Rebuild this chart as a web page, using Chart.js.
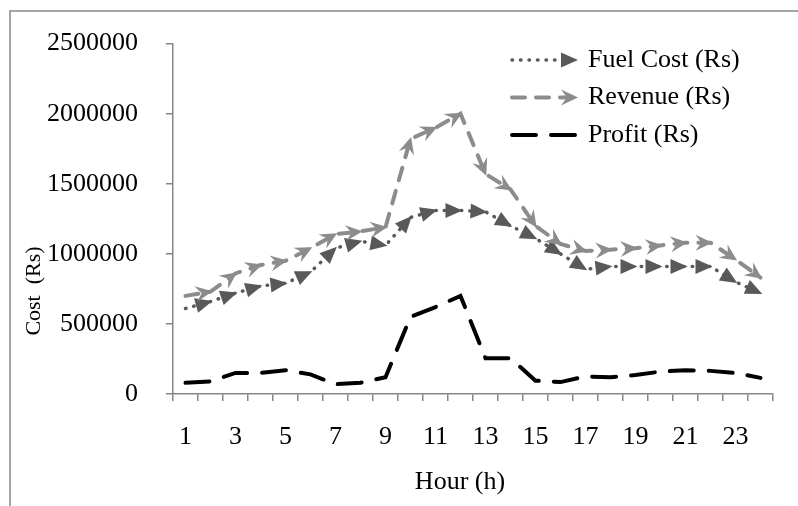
<!DOCTYPE html>
<html lang="en">
<head>
<meta charset="UTF-8">
<title>Hourly Cost Chart</title>
<script src="https://cdn.jsdelivr.net/npm/chart.js"></script>
<style>
  body { margin: 0; background: #fff; }
  canvas { display: block; }
</style>
</head>
<body>
<canvas id="costChart" width="798" height="506"></canvas>
<script>
const hours = ['1','2','3','4','5','6','7','8','9','10','11','12','13','14','15','16','17','18','19','20','21','22','23','24'];
const fuelCost = [610000, 660000, 720000, 770000, 790000, 870000, 1040000, 1090000, 1060000, 1260000, 1310000, 1310000,
                  1300000, 1200000, 1110000, 1000000, 890000, 910000, 910000, 910000, 910000, 910000, 800000, 720000];
const revenue = [700000, 730000, 860000, 920000, 950000, 1040000, 1140000, 1160000, 1190000, 1820000, 1900000, 2000000,
                 1570000, 1460000, 1200000, 1070000, 1020000, 1030000, 1040000, 1060000, 1080000, 1080000, 960000, 830000];
const profit = [80000, 90000, 150000, 150000, 170000, 140000, 70000, 80000, 120000, 550000, 620000, 700000,
                255000, 255000, 95000, 85000, 125000, 120000, 135000, 160000, 170000, 165000, 150000, 115000];
const yTicks = [0, 500000, 1000000, 1500000, 2000000, 2500000];

const serif = '"Liberation Serif", "Times New Roman", serif';
const axisGray = '#868686';

const styles = [
  { label: 'Fuel Cost (Rs)', color: '#595959', width: 3.5, dash: [0.5, 8], arrow: 'tri' },
  { label: 'Revenue (Rs)', color: '#8c8c8c', width: 4, dash: [13, 11], arrow: 'stealth' },
  { label: 'Profit (Rs)', color: '#000000', width: 4, dash: [24, 15], arrow: null }
];

function arrowHead(ctx, x, y, ang, kind, color) {
  ctx.save();
  ctx.translate(x, y);
  ctx.rotate(ang);
  ctx.fillStyle = color;
  ctx.beginPath();
  if (kind === 'tri') {
    ctx.moveTo(2, 0); ctx.lineTo(-15, -7.5); ctx.lineTo(-15, 7.5);
  } else {
    ctx.moveTo(2, 0); ctx.lineTo(-15, -8); ctx.lineTo(-9, 0); ctx.lineTo(-15, 8);
  }
  ctx.closePath();
  ctx.fill();
  ctx.restore();
}

const decor = {
  id: 'decor',
  afterDatasetsDraw(chart) {
    const ctx = chart.ctx;
    chart.data.datasets.forEach((ds, di) => {
      const st = styles[di];
      if (!st.arrow) return;
      const pts = chart.getDatasetMeta(di).data;
      for (let i = 1; i < pts.length; i++) {
        const a = pts[i - 1], b = pts[i];
        arrowHead(ctx, b.x, b.y, Math.atan2(b.y - a.y, b.x - a.x), st.arrow, st.color);
      }
    });
  },
  afterDraw(chart) {
    const ctx = chart.ctx;
    ctx.save();
    // outer frame (only top and left edges show)
    ctx.strokeStyle = axisGray;
    ctx.lineWidth = 1.5;
    ctx.beginPath();
    ctx.moveTo(10, 506); ctx.lineTo(10, 11); ctx.lineTo(798, 11);
    ctx.stroke();

    // axis titles
    ctx.fillStyle = '#000';
    ctx.textAlign = 'center';
    ctx.textBaseline = 'middle';
    ctx.font = '26px ' + serif;
    ctx.fillText('Hour (h)', 460, 482);
    ctx.save();
    ctx.translate(34, 291);
    ctx.rotate(-Math.PI / 2);
    ctx.font = '22px ' + serif;
    ctx.fillText('Cost  (Rs)', 0, 0);
    ctx.restore();

    // legend
    ctx.textAlign = 'left';
    ctx.font = '26px ' + serif;
    styles.forEach((st, i) => {
      const y = 60 + i * 37.5;
      ctx.save();
      ctx.strokeStyle = st.color;
      ctx.lineWidth = st.width;
      ctx.lineCap = 'round';
      ctx.setLineDash(st.dash);
      ctx.beginPath();
      ctx.moveTo(512, y);
      ctx.lineTo(st.arrow ? 568 : 577, y);
      ctx.stroke();
      ctx.restore();
      if (st.arrow) arrowHead(ctx, 576, y, 0, st.arrow, st.color);
      ctx.fillStyle = '#000';
      ctx.fillText(st.label, 588, y);
    });
    ctx.restore();
  }
};

const series = [fuelCost, revenue, profit];

const ctx = document.getElementById('costChart').getContext('2d');
let chart = new Chart(ctx, {
  type: 'line',
  data: {
    labels: hours,
    datasets: styles.map((st, i) => ({
      label: st.label,
      data: series[i],
      borderColor: st.color,
      borderWidth: st.width,
      borderDash: st.dash,
      borderCapStyle: 'round',
      pointRadius: 0,
      tension: 0,
      fill: false
    }))
  },
  options: {
    responsive: false,
    animation: false,
    layout: { padding: { top: 38, right: 25, left: 0, bottom: 0 } },
    plugins: {
      legend: { display: false },
      tooltip: { enabled: false }
    },
    scales: {
      x: {
        offset: true,
        grid: { offset: true, drawOnChartArea: false, tickLength: 7, color: axisGray, lineWidth: 1.5 },
        border: { color: axisGray, width: 1.5 },
        ticks: {
          autoSkip: false,
          maxRotation: 0,
          padding: 21,
          color: '#000',
          font: { family: serif, size: 26 },
          callback: (v, i) => (i % 2 === 0 ? hours[i] : '')
        },
        afterFit: (s) => { s.height = 112; }
      },
      y: {
        min: 0,
        max: 2500000,
        afterBuildTicks: (s) => { s.ticks = yTicks.map(v => ({ value: v })); },
        grid: { drawOnChartArea: false, tickLength: 7, color: axisGray, lineWidth: 1.5 },
        border: { color: axisGray, width: 1.5 },
        ticks: {
          padding: 28,
          color: '#000',
          font: { family: serif, size: 26 },
          callback: (v) => String(v)
        },
        afterFit: (s) => { s.width = 173; }
      }
    }
  },
  plugins: [decor]
});
</script>
</body>
</html>
